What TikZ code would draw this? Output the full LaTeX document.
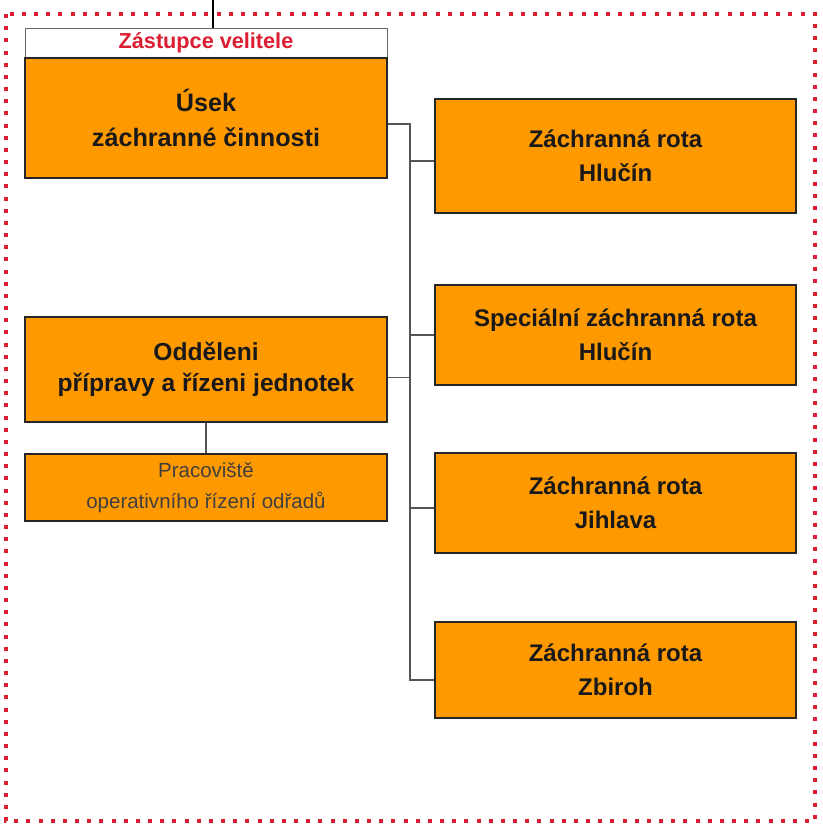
\documentclass[tikz,border=0pt]{standalone}
\usepackage{fontspec}
\setmainfont{Liberation Sans}
\usetikzlibrary{calc}
\definecolor{orng}{RGB}{255,153,0}
\definecolor{redframe}{RGB}{220,30,50}
\definecolor{linegray}{RGB}{85,85,85}
\tikzset{
  box/.style={rectangle,fill=orng,draw=black!85,line width=1.1pt,text=black!90,
    minimum width=10.86cm,inner sep=0pt,align=center,
    font=\bfseries\fontsize{20.5}{29}\selectfont},
  conn/.style={draw=linegray,line width=1.2pt},
}
\begin{document}
\begin{tikzpicture}[x=0.03cm,y=-0.03cm]
                \useasboundingbox (0,0) rectangle (823,829);
                \draw[redframe,line width=3.4pt,dash pattern=on 0.12cm off 0.245cm] (6,14) rectangle (815,821);

                \path (206,43) node[box,fill=white,draw=black!60,line width=0.8pt,text=redframe,minimum height=0.9cm,
                  font=\bfseries\fontsize{18.5}{22}\selectfont] (Z) {Zástupce velitele};
                \path (206,118) node[box,line width=2pt,minimum height=3.6cm,
                  font=\bfseries\fontsize{21.5}{30}\selectfont] (U) {Úsek\\záchranné činnosti};
                \path (206,369.5) node[box,minimum height=3.15cm,
                  font=\bfseries\fontsize{21}{27}\selectfont] (O) {Odděleni\\přípravy a řízeni jednotek};
                \path (206,487.5) node[box,minimum height=2.01cm,text=black!75,
                  font=\fontsize{17.5}{26.5}\selectfont] (P) {Pracoviště\\operativního řízení odřadů};

                \path (615.5,156) node[box,minimum width=10.83cm,minimum height=3.42cm] (A) {Záchranná rota\\Hlučín};
                \path (615.5,335) node[box,minimum width=10.83cm,minimum height=3cm] (B) {Speciální záchranná rota\\Hlučín};
                \path (615.5,503) node[box,minimum width=10.83cm,minimum height=3cm] (C) {Záchranná rota\\Jihlava};
                \path (615.5,670) node[box,minimum width=10.83cm,minimum height=2.88cm] (D) {Záchranná rota\\Zbiroh};

                \coordinate (top) at (213,0);
                \coordinate (V) at (410,124);
                \coordinate (W) at (410,680);

                \begin{scope}[every path/.append style={conn}]
                  \draw[black] (top) -- (top |- Z.north);
                  \draw (U.east |- V) -- (V) -- (W) -- (D.west |- W);
                  \foreach \n/\d in {A/5,B/0,C/5}
                    \draw ($(\n.west)+(0,\d)$) -- ($(\n.west)+(0,\d)-(25,0)$);
                  \draw ($(O.east)+(0,8)$) -- ($(O.east)+(23,8)$);
                  \draw (O) -- (P);
                \end{scope}
              \end{tikzpicture}
\end{document}
